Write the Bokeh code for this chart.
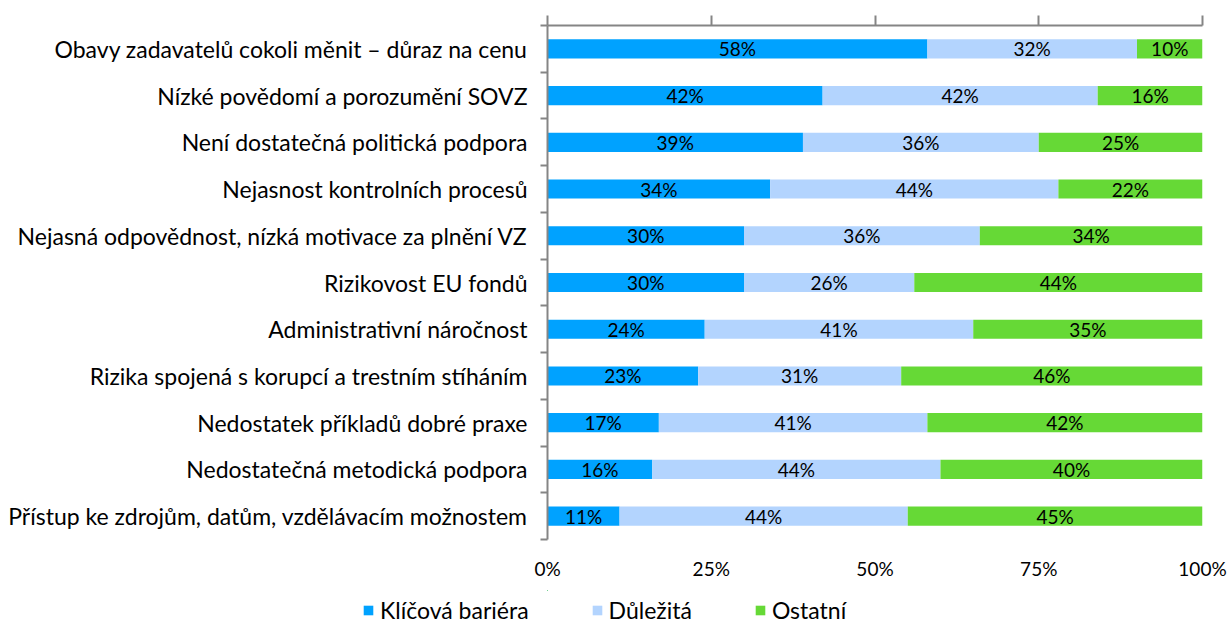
from bokeh.plotting import figure
from bokeh.layouts import column
from bokeh.models import (ColumnDataSource, FixedTicker, LinearAxis, Legend, LegendItem,
                          PrintfTickFormatter, Range1d)
from bokeh.core.properties import value
from bokeh.embed import file_html
from bokeh.resources import INLINE

categories = [
    "Obavy zadavatelů cokoli měnit – důraz na cenu",
    "Nízké povědomí a porozumění SOVZ",
    "Není dostatečná politická podpora",
    "Nejasnost kontrolních procesů",
    "Nejasná odpovědnost, nízká motivace za plnění VZ",
    "Rizikovost EU fondů",
    "Administrativní náročnost",
    "Rizika spojená s korupcí a trestním stíháním",
    "Nedostatek příkladů dobré praxe",
    "Nedostatečná metodická podpora",
    "Přístup ke zdrojům, datům, vzdělávacím možnostem",
]
klicova = [58, 42, 39, 34, 30, 30, 24, 23, 17, 16, 11]
dulezita = [32, 42, 36, 44, 36, 26, 41, 31, 41, 44, 44]
ostatni = [10, 16, 25, 22, 34, 44, 35, 46, 42, 40, 45]
series_names = ["Klíčová bariéra", "Důležitá", "Ostatní"]
colors = ["#00A2FF", "#B3D4FE", "#66D936"]
x_ticks = [0, 25, 50, 75, 100]

FONT = "Lato"
n = len(categories)
ypos = [n - 1 - i for i in range(n)]

src = ColumnDataSource(dict(y=ypos, k=klicova, d=dulezita, o=ostatni))

p = figure(width=1231, height=590, output_backend="svg", toolbar_location=None,
           x_range=Range1d(0, 100), y_range=Range1d(-0.5, n - 0.5),
           x_axis_location=None, y_axis_location=None,
           min_border_left=547, min_border_right=29, min_border_top=25, min_border_bottom=51)
p.outline_line_color = None
p.grid.visible = False
p.background_fill_color = "white"

rs = p.hbar_stack(["k", "d", "o"], y="y", height=0.41, color=colors, source=src, line_color=None)

# value labels
for vals, prev in ((klicova, [0] * n), (dulezita, klicova), (ostatni, [a + b for a, b in zip(klicova, dulezita)])):
    cx = [pv + v / 2 for pv, v in zip(prev, vals)]
    p.text(x=cx, y=ypos, text=[f"{v}%" for v in vals], text_align="center", text_baseline="middle",
           text_font=value(FONT), text_font_size="19px", text_color="black")

axis_col = "#858585"

# left axis (category labels, ticks between categories)
yax = LinearAxis(ticker=FixedTicker(ticks=ypos, minor_ticks=[i - 0.5 for i in range(n + 1)]))
yax.major_label_overrides = {y: c for y, c in zip(ypos, categories)}
yax.major_tick_out = 0
yax.major_tick_in = 0
yax.minor_tick_out = 7
yax.minor_tick_in = 0
yax.minor_tick_line_color = axis_col
yax.minor_tick_line_width = 2
yax.axis_line_color = axis_col
yax.axis_line_width = 2
yax.major_label_standoff = 13
yax.major_label_text_font = FONT
yax.major_label_text_font_size = "23px"
yax.major_label_text_color = "black"
p.add_layout(yax, "left")

# top axis (line + ticks only)
tax = LinearAxis(ticker=FixedTicker(ticks=x_ticks))
tax.major_label_overrides = {t: "" for t in x_ticks}
tax.major_label_text_font_size = "1px"
tax.major_label_standoff = 0
tax.major_tick_out = 10
tax.major_tick_in = 0
tax.major_tick_line_color = axis_col
tax.major_tick_line_width = 2
tax.axis_line_color = axis_col
tax.axis_line_width = 2
p.add_layout(tax, "above")

# bottom axis (labels only)
bax = LinearAxis(ticker=FixedTicker(ticks=x_ticks), formatter=PrintfTickFormatter(format="%d%%"))
bax.axis_line_color = None
bax.major_tick_line_color = None
bax.major_label_standoff = 11
bax.major_label_text_font = FONT
bax.major_label_text_font_size = "19px"
bax.major_label_text_color = "black"
p.add_layout(bax, "below")

# legend strip (a full-width frame so the legend is not clipped; its bars lie outside the view)
lg = figure(frame_width=1231, frame_height=34, output_backend="svg", toolbar_location=None,
            x_range=Range1d(1000, 1001), y_range=Range1d(-40, -39),
            x_axis_location=None, y_axis_location=None,
            min_border_left=0, min_border_right=0, min_border_top=0, min_border_bottom=0)
lg.outline_line_color = None
lg.grid.visible = False
lrs = lg.hbar_stack(["k", "d", "o"], y="y", height=0.41, color=colors, source=src, line_color=None)
legend = Legend(items=[LegendItem(label=nm, renderers=[r]) for nm, r in zip(series_names, lrs)],
                orientation="horizontal", location=(362, 0), spacing=62,
                glyph_width=12, glyph_height=12, label_standoff=6, padding=0, margin=0,
                border_line_color=None, background_fill_alpha=0,
                label_text_font=FONT, label_text_font_size="23px", label_text_color="black")
lg.add_layout(legend, "center")

open("out.html", "w").write(file_html(column(p, lg, spacing=0), INLINE))
